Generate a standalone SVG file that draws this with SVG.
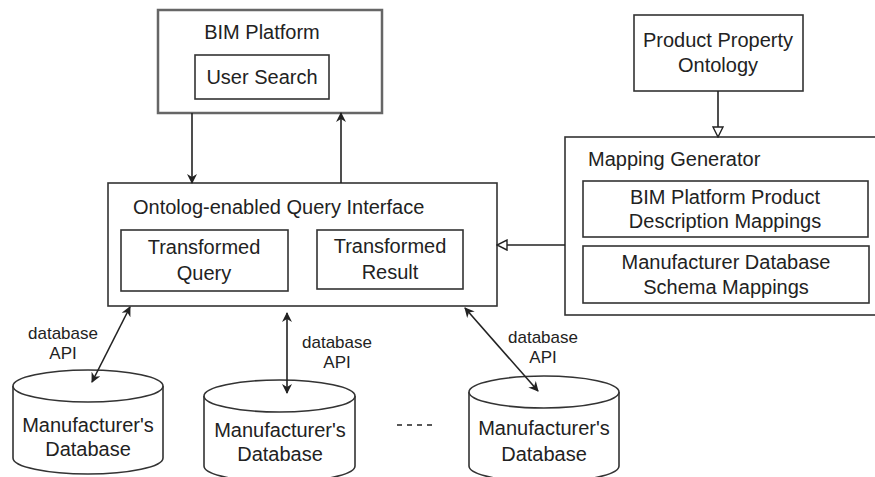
<svg xmlns="http://www.w3.org/2000/svg" width="875" height="477" viewBox="0 0 875 477">
<style>
text{font-family:"Liberation Sans",Arial,Helvetica,sans-serif;fill:#222;}
.t{font-size:20px;}
.s{font-size:17px;}
.box{fill:#fff;stroke:#333;stroke-width:1.6;}
.outer{fill:#fff;stroke:#666;stroke-width:2.5;}
.edge{fill:none;stroke:#222;stroke-width:1.6;}
.cyl{fill:#fff;stroke:#333;stroke-width:1.6;}
</style>
<defs>
<marker id="arr" viewBox="0 0 10 10" refX="9" refY="5" markerWidth="10" markerHeight="10" markerUnits="userSpaceOnUse" orient="auto-start-reverse">
<path d="M0,0 L10,5 L0,10 L3,5 Z" fill="#222"/>
</marker>
<marker id="tri" viewBox="0 0 12 12" refX="11" refY="6" markerWidth="12" markerHeight="12" markerUnits="userSpaceOnUse" orient="auto">
<path d="M1,1 L11,6 L1,11 Z" fill="#fff" stroke="#222" stroke-width="1.4"/>
</marker>
</defs>

<g id="bim-platform">
<rect class="outer" x="158" y="10" width="224" height="103"/>
<text class="t" x="262" y="39" text-anchor="middle">BIM Platform</text>
<g id="user-search">
<rect class="box" x="195" y="55" width="134" height="44"/>
<text class="t" x="262" y="84" text-anchor="middle">User Search</text>
</g>
</g>

<g id="product-property-ontology">
<rect class="box" x="634" y="15" width="169" height="76"/>
<text class="t" x="718" y="47" text-anchor="middle">Product Property</text>
<text class="t" x="718" y="72" text-anchor="middle">Ontology</text>
</g>

<g id="mapping-generator">
<rect class="box" x="565" y="137" width="320" height="178"/>
<text class="t" x="588" y="166">Mapping Generator</text>
<g id="bim-mappings">
<rect class="box" x="583" y="181" width="285" height="56"/>
<text class="t" x="725" y="204" text-anchor="middle">BIM Platform Product</text>
<text class="t" x="725" y="228" text-anchor="middle">Description Mappings</text>
</g>
<g id="schema-mappings">
<rect class="box" x="583" y="246" width="286" height="57"/>
<text class="t" x="726" y="269" text-anchor="middle">Manufacturer Database</text>
<text class="t" x="726" y="294" text-anchor="middle">Schema Mappings</text>
</g>
</g>

<g id="query-interface">
<rect class="box" x="108" y="183" width="389" height="123"/>
<text class="t" x="133" y="214">Ontolog-enabled Query Interface</text>
<g id="transformed-query">
<rect class="box" x="121" y="230" width="167" height="61"/>
<text class="t" x="204" y="254" text-anchor="middle">Transformed</text>
<text class="t" x="204" y="280" text-anchor="middle">Query</text>
</g>
<g id="transformed-result">
<rect class="box" x="317" y="230" width="146" height="59"/>
<text class="t" x="390" y="253" text-anchor="middle">Transformed</text>
<text class="t" x="390" y="279" text-anchor="middle">Result</text>
</g>
</g>

<g id="db1">
<path class="cyl" d="M13,386 A75,16 0 0 1 163,386 L163,458 A75,16 0 0 1 13,458 Z"/>
<path class="cyl" fill="none" d="M13,386 A75,16 0 0 0 163,386"/>
<text class="t" x="88" y="432" text-anchor="middle">Manufacturer's</text>
<text class="t" x="88" y="456" text-anchor="middle">Database</text>
</g>

<g id="db2">
<path class="cyl" d="M204,396 A75.5,16 0 0 1 355,396 L355,466 A75.5,16 0 0 1 204,466 Z"/>
<path class="cyl" fill="none" d="M204,396 A75.5,16 0 0 0 355,396"/>
<text class="t" x="280" y="437" text-anchor="middle">Manufacturer's</text>
<text class="t" x="280" y="461" text-anchor="middle">Database</text>
</g>

<g id="db3">
<path class="cyl" d="M469,392 A75,16 0 0 1 619,392 L619,466 A75,16 0 0 1 469,466 Z"/>
<path class="cyl" fill="none" d="M469,392 A75,16 0 0 0 619,392"/>
<text class="t" x="544" y="435" text-anchor="middle">Manufacturer's</text>
<text class="t" x="544" y="461" text-anchor="middle">Database</text>
</g>

<g id="ellipsis">
<line x1="397" y1="425" x2="433" y2="425" stroke="#222" stroke-width="1.4" stroke-dasharray="5,5"/>
</g>

<g id="connectors">
<line class="edge" x1="192" y1="113" x2="192" y2="183" marker-end="url(#arr)"/>
<line class="edge" x1="341" y1="183" x2="341" y2="113" marker-end="url(#arr)"/>
<line class="edge" x1="718" y1="91" x2="718" y2="137" marker-end="url(#tri)"/>
<line class="edge" x1="565" y1="245" x2="497" y2="245" marker-end="url(#tri)"/>
<line class="edge" x1="130" y1="307" x2="92" y2="382" marker-start="url(#arr)" marker-end="url(#arr)"/>
<line class="edge" x1="287" y1="313" x2="287" y2="393" marker-start="url(#arr)" marker-end="url(#arr)"/>
<line class="edge" x1="465" y1="308" x2="538" y2="391" marker-start="url(#arr)" marker-end="url(#arr)"/>
<text class="s" x="63" y="339" text-anchor="middle">database</text>
<text class="s" x="63" y="359" text-anchor="middle">API</text>
<text class="s" x="337" y="348" text-anchor="middle">database</text>
<text class="s" x="337" y="368" text-anchor="middle">API</text>
<text class="s" x="543" y="343" text-anchor="middle">database</text>
<text class="s" x="543" y="363" text-anchor="middle">API</text>
</g>
</svg>
